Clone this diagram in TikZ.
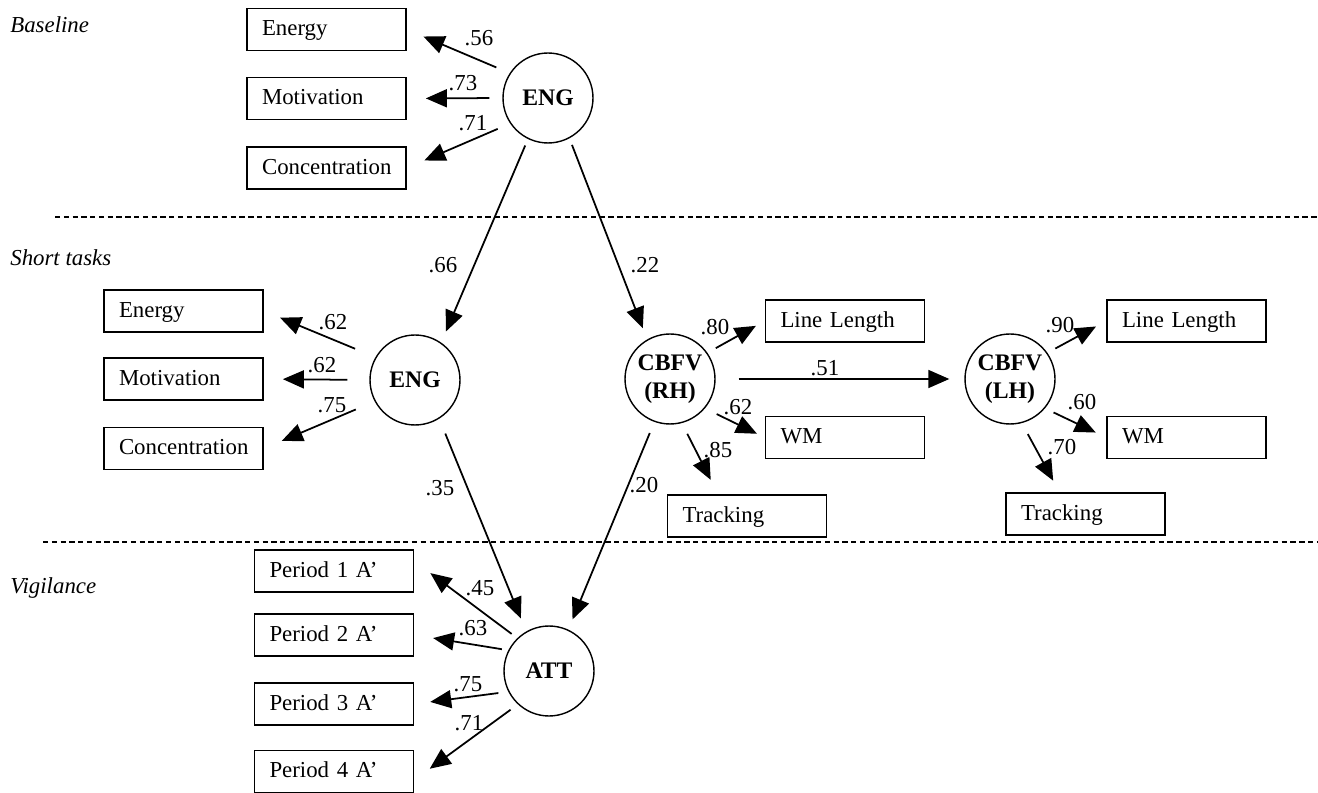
\documentclass[tikz,border=0pt]{standalone}
\usepackage{fontspec}
\setmainfont{Liberation Serif}
\usetikzlibrary{arrows.meta}

\begin{document}
\begin{tikzpicture}[x=0.02cm, y=-0.02cm,
  font=\fontsize{13}{15}\selectfont,
  obs/.style={draw, line width=1pt, minimum height=0.84cm, text width=2.58cm,
    inner xsep=0.3cm, inner ysep=0pt, align=left, text height=1.5ex, text depth=0pt},
  lat/.style={draw, circle, line width=0.8pt, minimum size=1.8cm, inner sep=0pt,
    align=center, font=\fontsize{13.5}{16}\selectfont\bfseries},
  ld/.style={line width=1pt, -{Triangle[length=0.42cm,width=0.36cm]}},
  coef/.style={inner sep=0pt},
  sect/.style={anchor=west, inner sep=0pt, font=\fontsize{13}{15}\selectfont\itshape},
  divider/.style={line width=0.8pt, dash pattern=on 3pt off 2pt}]
\useasboundingbox (0,0) rectangle (1318,793);

% sections
\node[sect] (sbase) at (10,25) {Baseline};
\node[sect] (sshort) at (10,258) {Short tasks};
\node[sect] (svig) at (10,588) {Vigilance};
\draw[divider] (55,217) -- (1318,217);
\draw[divider] (43,542) -- (1318,542);

% baseline
\node[lat] (eng1) at (548,98) {ENG};
\node[obs] (en1) at (326.5,29.5) {Energy};
\node[obs] (mo1) at (326.5,98.5) {Motivation};
\node[obs] (co1) at (326.5,168) {Concentration};
\draw[ld, shorten <=0.29cm, shorten >=0.36cm] (eng1.147) -- (en1.east);
\draw[ld, shorten <=0.26cm, shorten >=0.38cm] (eng1.west) -- (mo1.east);
\draw[ld, shorten <=0.27cm, shorten >=0.38cm] (eng1.214) -- (co1.east);
\node[coef] (c56) at (479,38) {.56};
\node[coef] (c73) at (463,83) {.73};
\node[coef] (c71) at (473,123) {.71};

% short tasks
\node[lat] (eng2) at (415,380) {ENG};
\node[obs] (en2) at (183.5,311) {Energy};
\node[obs] (mo2) at (183.5,379) {Motivation};
\node[obs] (co2) at (183.5,448.5) {Concentration};
\draw[ld, shorten <=0.44cm, shorten >=0.35cm] (eng2.150) -- (en2.east);
\draw[ld, shorten <=0.44cm, shorten >=0.38cm] (eng2.west) -- (mo2.east);
\draw[ld, shorten <=0.41cm, shorten >=0.39cm] (eng2.208) -- (co2.east);
\node[coef] (c62a) at (333,322) {.62};
\node[coef] (c62b) at (322,365) {.62};
\node[coef] (c75a) at (332,405) {.75};

\node[lat] (rh) at (670,379) {CBFV\\(RH)};
\node[obs] (ll1) at (845,321) {Line Length};
\node[obs] (wm1) at (845,437.5) {WM};
\node[obs] (tr1) at (747,516) {Tracking};
\draw[ld, shorten <=0.19cm, shorten >=0.2cm] (rh.35) -- (ll1.west);
\draw[ld, shorten <=0.26cm, shorten >=0.17cm] (rh.-40) -- (wm1.west);
\draw[ld, shorten <=0.24cm, shorten >=0.32cm] (rh.285) -- (tr1.143);
\node[coef] (c80) at (715,327) {.80};
\node[coef] (c62c) at (738,407) {.62};
\node[coef] (c85) at (718,450) {.85};

\node[lat] (lh) at (1010,379) {CBFV\\(LH)};
\node[obs] (ll2) at (1186.5,321) {Line Length};
\node[obs] (wm2) at (1186.5,437.5) {WM};
\node[obs] (tr2) at (1085.5,514) {Tracking};
\draw[ld, shorten <=0.18cm, shorten >=0.23cm] (lh.35) -- (ll2.west);
\draw[ld, shorten <=0.19cm, shorten >=0.23cm] (lh.-40) -- (wm2.west);
\draw[ld, shorten <=0.25cm, shorten >=0.26cm] (lh.285) -- (tr2.140);
\node[coef] (c90) at (1060,325) {.90};
\node[coef] (c60) at (1082,402) {.60};
\node[coef] (c70) at (1062,447) {.70};

\draw[ld, shorten <=0.46cm, shorten >=0.3cm] (rh.east) -- (lh.west);
\node[coef] (c51) at (825,368) {.51};

\draw[ld, shorten <=0.14cm, shorten >=0.24cm] (eng1.244) -- (eng2.55);
\draw[ld, shorten <=0.14cm, shorten >=0.24cm] (eng1.298) -- (rh.120);
\node[coef] (c66) at (443,265) {.66};
\node[coef] (c22) at (645,265) {.22};

% vigilance
\node[lat] (att) at (549,671) {ATT};
\node[obs] (p1) at (334,571) {Period 1 A’};
\node[obs] (p2) at (334,635) {Period 2 A’};
\node[obs] (p3) at (334,704) {Period 3 A’};
\node[obs] (p4) at (334,771.5) {Period 4 A’};
\draw[ld, shorten <=0.14cm, shorten >=0.4cm] (att.134) -- (p1.7);
\draw[ld, shorten <=0.13cm, shorten >=0.38cm] (att.153) -- (p2.east);
\draw[ld, shorten <=0.2cm, shorten >=0.32cm] (att.207) -- (p3.east);
\draw[ld, shorten <=0.18cm, shorten >=0.38cm] (att.227) -- (p4.-6);
\node[coef] (c45) at (480,588) {.45};
\node[coef] (c63) at (473,628) {.63};
\node[coef] (c75b) at (468,684) {.75};
\node[coef] (c71b) at (469,723) {.71};

\draw[ld, shorten <=0.32cm, shorten >=0.28cm] (eng2.302) -- (att.120);
\draw[ld, shorten <=0.24cm, shorten >=0.22cm] (rh.250) -- (att.65);
\node[coef] (c35) at (440,488) {.35};
\node[coef] (c20) at (644,485) {.20};
\end{tikzpicture}
\end{document}
